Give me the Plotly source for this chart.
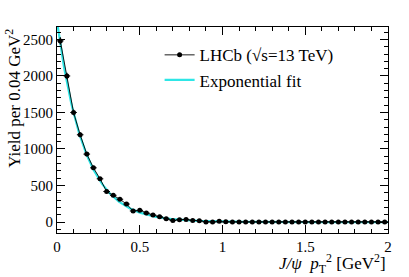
import numpy as np
import plotly.graph_objects as go

# bin centres (GeV^2), bin width 0.04
x_centres = [round(0.02 + 0.04 * i, 2) for i in range(50)]
yield_vals = [2480, 2000, 1500, 1195, 930, 742, 592, 418, 366, 312,
              246, 152, 160, 123, 96, 73, 45, 20, 32, 36,
              22, 18, 2, 2, 10, 3, 2, 2, 2, 2,
              2, 2, 2, 2, 2, 2, 2, 2, 2, 2,
              2, 2, 2, 2, 2, 2, 2, 2, 2, 2]
fit_amp = 2750.0
fit_slope = 6.1

x_err = [0.02] * len(x_centres)
y_err = [np.sqrt(max(v, 1)) for v in yield_vals]

xf = np.linspace(0, 2, 400)
yf = fit_amp * np.exp(-fit_slope * xf)

serif = "Liberation Serif"

fig = go.Figure()
fig.add_trace(go.Scatter(
    x=xf, y=yf, mode="lines", name="Exponential fit",
    line=dict(color="#2ee6e6", width=2.2), hoverinfo="skip"))
fig.add_trace(go.Scatter(
    x=x_centres, y=yield_vals, mode="lines+markers",
    name="LHCb (√s=13 TeV)",
    line=dict(color="black", width=0.9),
    marker=dict(color="black", size=5),
    error_x=dict(type="data", array=x_err, color="black", thickness=1, width=0),
    error_y=dict(type="data", array=y_err, color="black", thickness=1.2, width=0)))

axis_common = dict(
    showline=True, linecolor="black", linewidth=1.2, mirror="ticks",
    ticks="inside", tickcolor="black", ticklen=8, tickwidth=1,
    showgrid=False, zeroline=False, automargin=False,
    tickfont=dict(family=serif, size=15, color="black"))

fig.update_xaxes(range=[0, 2], tickvals=[0, 0.5, 1, 1.5, 2],
                 ticktext=["0", "0.5", "1", "1.5", "2"],
                 minor=dict(ticks="inside", dtick=0.1, ticklen=4, tickcolor="black", showgrid=False),
                 **axis_common)
fig.update_yaxes(range=[-150, 2670], tickvals=[0, 500, 1000, 1500, 2000, 2500],
                 minor=dict(ticks="inside", dtick=100, ticklen=4, tickcolor="black", showgrid=False),
                 **axis_common)

# y-axis title, aligned to the top of the axis (ROOT style)
fig.add_annotation(xref="paper", yref="paper", x=-0.135, y=1.0, xanchor="center", yanchor="top",
                   textangle=-90, text="Yield per 0.04 GeV<sup>2</sup>",
                   showarrow=False, font=dict(family=serif, size=17, color="black"))

fig.add_annotation(xref="paper", yref="paper", x=1.0, y=-0.08, xanchor="right", yanchor="top",
                   text="<i>J/ψ</i>  <i>p</i><sub>T</sub><sup>2</sup> [GeV<sup>2</sup>]",
                   showarrow=False, font=dict(family=serif, size=17, color="black"))

fig.update_layout(
    width=409, height=277,
    margin=dict(l=57, r=21, t=27, b=44),
    paper_bgcolor="white", plot_bgcolor="white",
    font=dict(family=serif, color="black"),
    showlegend=True,
    legend=dict(x=0.31, y=0.95, xanchor="left", yanchor="top",
                bgcolor="rgba(0,0,0,0)", traceorder="reversed",
                font=dict(family=serif, size=17, color="black"),
                itemwidth=30, tracegroupgap=0),
)

fig.write_html("out.html", config={"displayModeBar": False},
               post_script="document.body.style.margin='0';document.body.style.padding='0';")
